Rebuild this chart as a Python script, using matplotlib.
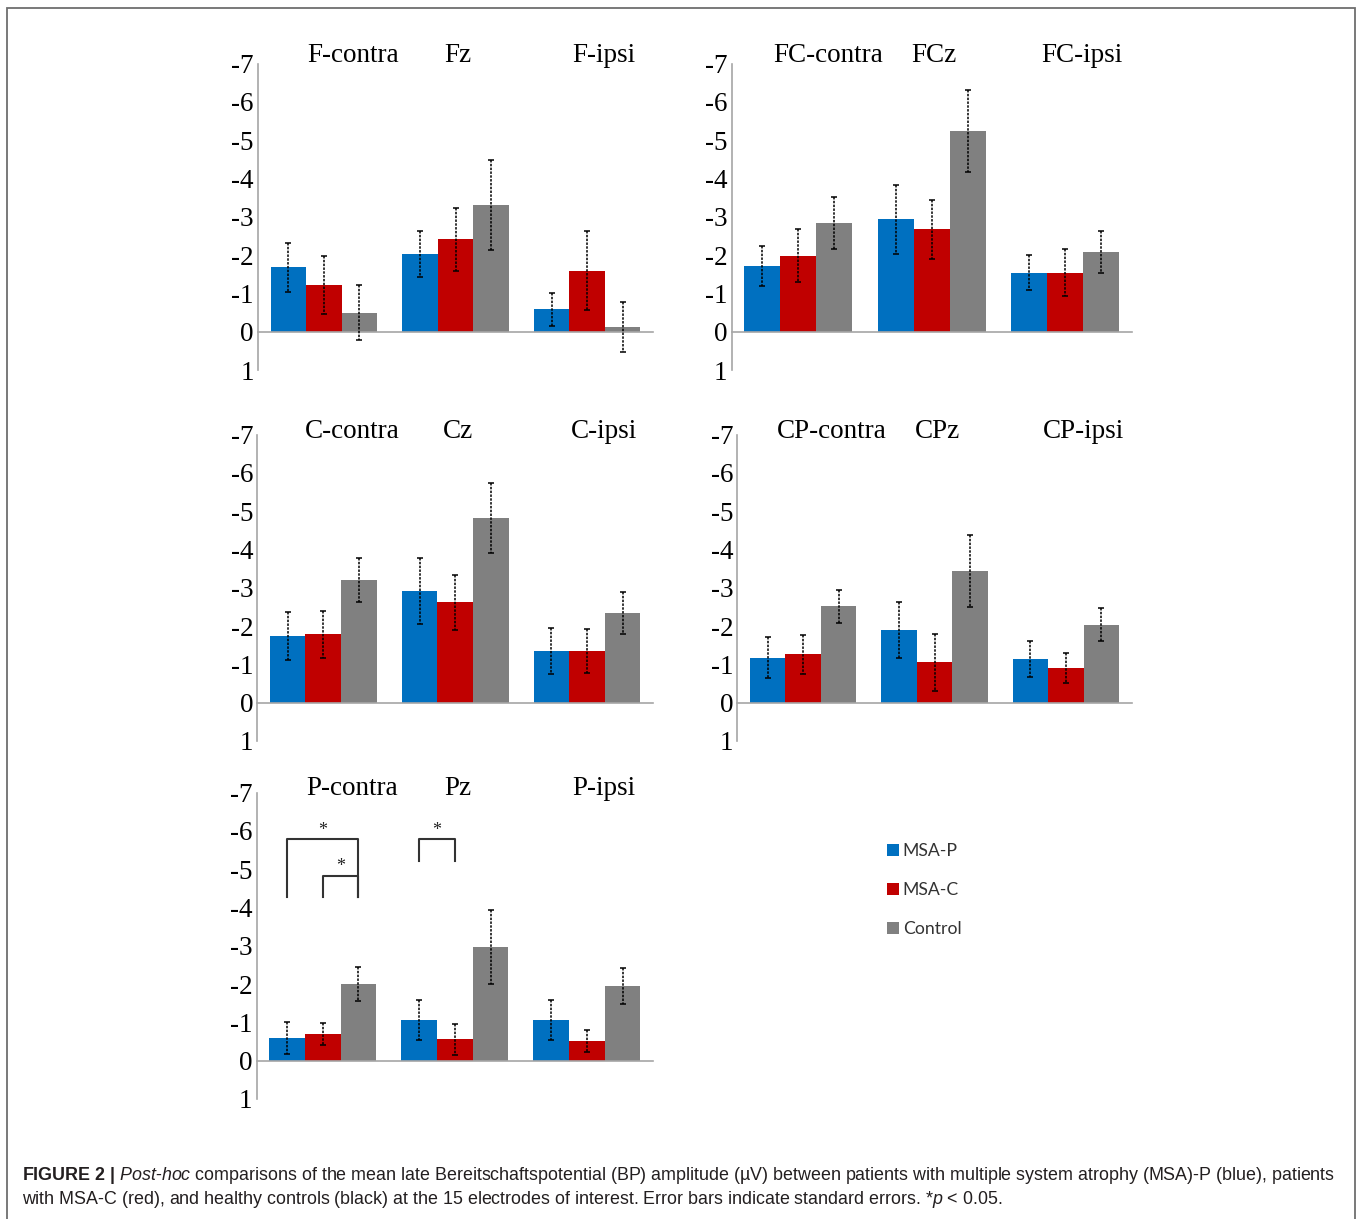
import numpy as np
import matplotlib
matplotlib.use('Agg')
import matplotlib.pyplot as plt
from matplotlib.patches import Rectangle

plt.rcParams['axes.unicode_minus'] = False
plt.rcParams['mathtext.fontset'] = 'custom'
plt.rcParams['mathtext.rm'] = 'Liberation Sans'
plt.rcParams['mathtext.it'] = 'Liberation Sans:italic'
plt.rcParams['mathtext.bf'] = 'Liberation Sans:bold'

# late BP amplitude (uV), order: contra, midline, ipsi
groups = ['MSA-P', 'MSA-C', 'Control']
colors = ['#0070C0', '#C00000', '#808080']

F_names  = ['F-contra', 'Fz', 'F-ipsi']
F_msap   = [-1.68, -2.04, -0.58]
F_msac   = [-1.22, -2.41, -1.59]
F_ctrl   = [-0.50, -3.31, -0.13]
F_se_p   = [0.64, 0.60, 0.42]
F_se_c   = [0.76, 0.83, 1.03]
F_se_k   = [0.71, 1.17, 0.65]

FC_names = ['FC-contra', 'FCz', 'FC-ipsi']
FC_msap  = [-1.71, -2.94, -1.54]
FC_msac  = [-1.98, -2.67, -1.54]
FC_ctrl  = [-2.85, -5.23, -2.07]
FC_se_p  = [0.52, 0.90, 0.46]
FC_se_c  = [0.69, 0.77, 0.62]
FC_se_k  = [0.68, 1.07, 0.55]

C_names  = ['C-contra', 'Cz', 'C-ipsi']
C_msap   = [-1.75, -2.92, -1.35]
C_msac   = [-1.79, -2.62, -1.35]
C_ctrl   = [-3.20, -4.83, -2.35]
C_se_p   = [0.63, 0.87, 0.59]
C_se_c   = [0.61, 0.72, 0.57]
C_se_k   = [0.57, 0.91, 0.55]

CP_names = ['CP-contra', 'CPz', 'CP-ipsi']
CP_msap  = [-1.18, -1.90, -1.14]
CP_msac  = [-1.26, -1.05, -0.91]
CP_ctrl  = [-2.52, -3.43, -2.03]
CP_se_p  = [0.53, 0.72, 0.47]
CP_se_c  = [0.50, 0.75, 0.39]
CP_se_k  = [0.43, 0.94, 0.43]

P_names  = ['P-contra', 'Pz', 'P-ipsi']
P_msap   = [-0.60, -1.06, -1.06]
P_msac   = [-0.69, -0.56, -0.51]
P_ctrl   = [-2.00, -2.97, -1.96]
P_se_p   = [0.42, 0.53, 0.53]
P_se_c   = [0.29, 0.40, 0.28]
P_se_k   = [0.44, 0.97, 0.47]

# significant pairs in P panel: (electrode, bar a, bar b, top, leg end)
P_sig = [(0, 0, 2, -5.78, -4.28), (0, 1, 2, -4.82, -4.28), (1, 0, 1, -5.78, -5.22)]

W, H = 1358, 1219
fig = plt.figure(figsize=(W / 100, H / 100), dpi=100)

def frac(x0, x1, ytop, ybot):
    return [x0 / W, 1 - ybot / H, (x1 - x0) / W, (ybot - ytop) / H]

panels = [
    (frac(258, 653, 63.6, 370), F_names, [F_msap, F_msac, F_ctrl], [F_se_p, F_se_c, F_se_k], -7.22),
    (frac(731.7, 1131.7, 63.6, 370), FC_names, [FC_msap, FC_msac, FC_ctrl], [FC_se_p, FC_se_c, FC_se_k], -7.22),
    (frac(257.3, 653, 434.6, 741), C_names, [C_msap, C_msac, C_ctrl], [C_se_p, C_se_c, C_se_k], -7.07),
    (frac(737.3, 1131.7, 434.6, 741), CP_names, [CP_msap, CP_msac, CP_ctrl], [CP_se_p, CP_se_c, CP_se_k], -7.07),
    (frac(256.7, 653, 792.6, 1099), P_names, [P_msap, P_msac, P_ctrl], [P_se_p, P_se_c, P_se_k], -7.12),
]

title_shift = [0.22, 0.02, 0.13]
bw = 0.27
x = np.arange(3)
serif = 'Liberation Serif'
bars = []

for i, (rect, names, means, ses, ty) in enumerate(panels):
    ax = fig.add_axes(rect)
    for g in range(3):
        b = ax.bar(x + (g - 1) * bw, means[g], bw, color=colors[g], label=groups[g], zorder=2)
        eb = ax.errorbar(x + (g - 1) * bw, means[g], yerr=ses[g], fmt='none', ecolor='black',
                         elinewidth=1.1, capsize=2.2, capthick=1.1, zorder=3)
        eb[2][0].set_linestyle((0, (1.6, 0.9)))
        if i == 0:
            bars.append(b)
    ax.set_xlim(-0.5, 2.5)
    ax.set_ylim(1, -7)
    ax.set_yticks(range(-7, 2))
    ax.tick_params(axis='y', length=0, pad=3, labelsize=19.5)
    for lab in ax.get_yticklabels():
        lab.set_fontfamily(serif)
    ax.set_xticks([])
    for s in ['top', 'right']:
        ax.spines[s].set_visible(False)
    ax.spines['bottom'].set_position(('data', 0))
    ax.spines['bottom'].set_color('#a6a6a6')
    ax.spines['left'].set_color('#a6a6a6')
    ax.spines['bottom'].set_linewidth(1.2)
    ax.spines['left'].set_linewidth(1.2)
    for k, nm in enumerate(names):
        ax.text(k + title_shift[k], ty, nm, ha='center', va='center',
                fontsize=19.5, family=serif, clip_on=False)
    if i == 4:
        for e, a, b2, top, leg in P_sig:
            xa = e + (a - 1) * bw
            xb = e + (b2 - 1) * bw
            ax.plot([xa, xa, xb, xb], [leg, top, top, leg], color='#333333', lw=1.5, zorder=4)
            ax.text((xa + xb) / 2, top - 0.24, '*', ha='center', va='center',
                    fontsize=13, family=serif, color='#222222')

fig.legend(handles=bars, labels=groups, loc='upper left', bbox_to_anchor=(887 / W, 1 - 843 / H),
           frameon=False, handlelength=0.7, handleheight=0.7, handletextpad=0.2,
           labelspacing=1.31, borderpad=0, borderaxespad=0, labelcolor='#333333',
           prop={'family': 'Lato', 'size': 12.7})

fig.add_artist(Rectangle((7 / W, -0.05), 1348 / W, 1.05 - 8 / H, transform=fig.transFigure,
                         fill=False, edgecolor='#6e6e6e', lw=1.3))

line1 = (r'$\bf{FIGURE\ 2\ |}$ $\it{Post}$-$\it{hoc}$ comparisons of the mean late Bereitschaftspotential (BP) '
         'amplitude (µV) between patients with multiple system atrophy (MSA)-P (blue), patients')
line2 = ('with MSA-C (red), and healthy controls (black) at the 15 electrodes of interest. '
         r'Error bars indicate standard errors. *$\it{p}$ < 0.05.')
fig.text(22 / W, 1 - 1175 / H, line1, ha='left', va='center', fontsize=12.9,
         family='Liberation Sans', color='#231f20')
fig.text(22 / W, 1 - 1200 / H, line2, ha='left', va='center', fontsize=12.9,
         family='Liberation Sans', color='#231f20')

fig.savefig('out.png', dpi=100)
